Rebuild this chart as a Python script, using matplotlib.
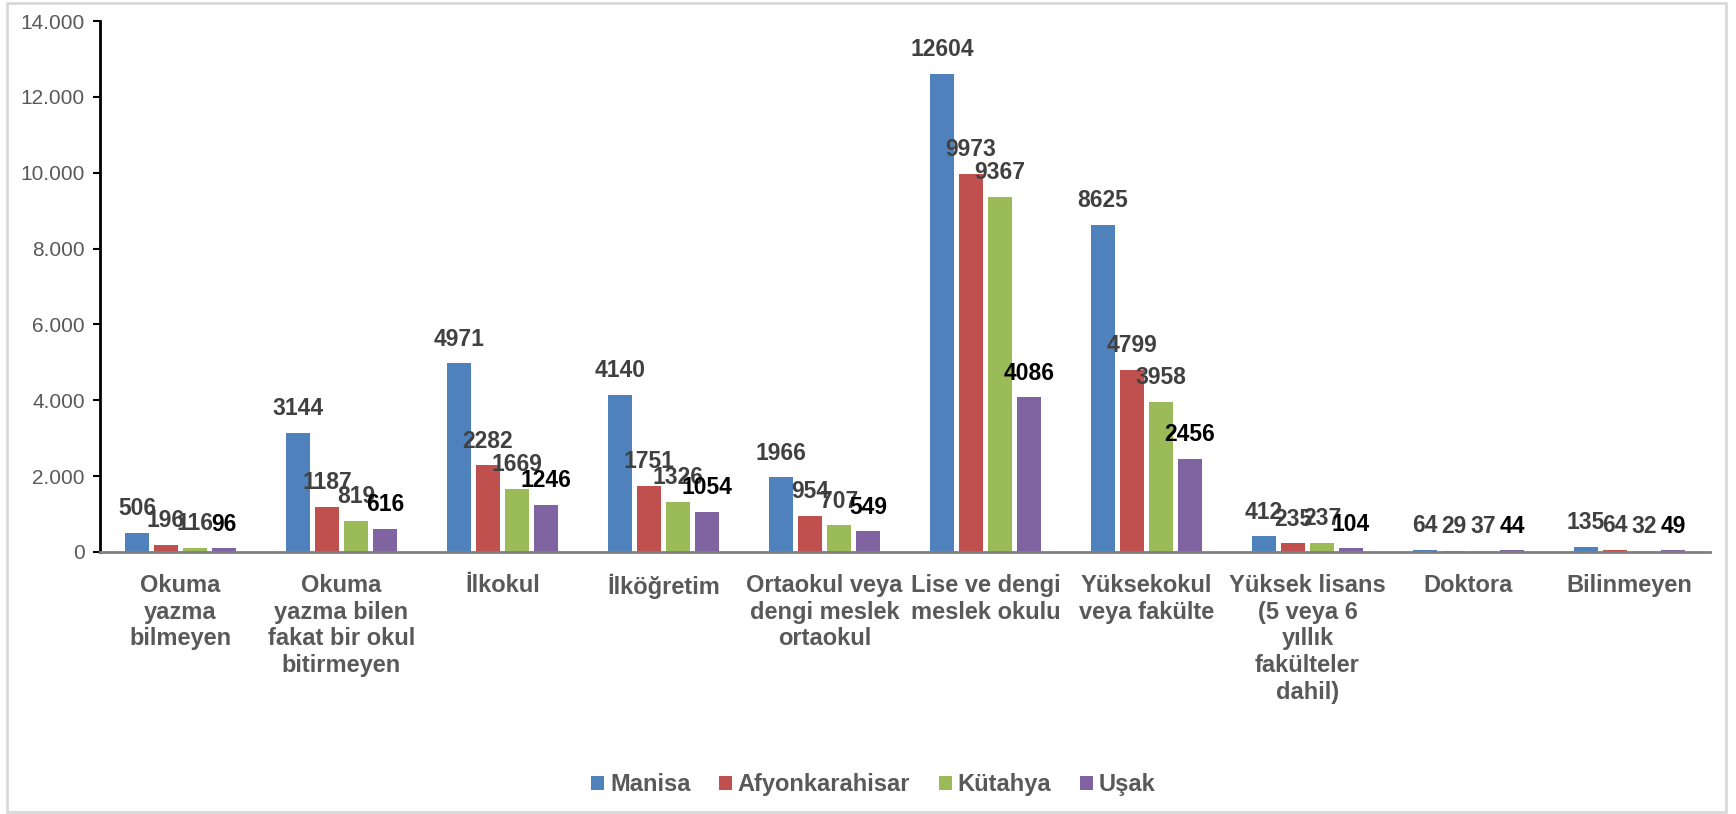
import matplotlib.pyplot as plt
from matplotlib import patches
from matplotlib.ticker import FuncFormatter
import numpy as np

categories = ["Okuma\nyazma\nbilmeyen", "Okuma\nyazma bilen\nfakat bir okul\nbitirmeyen",
              "İlkokul", "İlköğretim", "Ortaokul veya\ndengi meslek\nortaokul",
              "Lise ve dengi\nmeslek okulu", "Yüksekokul\nveya fakülte",
              "Yüksek lisans\n(5 veya 6\nyıllık\nfakülteler\ndahil)", "Doktora", "Bilinmeyen"]
series_names = ["Manisa", "Afyonkarahisar", "Kütahya", "Uşak"]
manisa = [506, 3144, 4971, 4140, 1966, 12604, 8625, 412, 64, 135]
afyon = [196, 1187, 2282, 1751, 954, 9973, 4799, 235, 29, 64]
kutahya = [116, 819, 1669, 1326, 707, 9367, 3958, 237, 37, 32]
usak = [96, 616, 1246, 1054, 549, 4086, 2456, 104, 44, 49]
y_ticks = [0, 2000, 4000, 6000, 8000, 10000, 12000, 14000]

colors = ['#4F81BD', '#C0504D', '#9BBB59', '#8064A2']
label_colors = ['#404040', '#404040', '#404040', '#000000']

plt.rcParams['font.family'] = ['Liberation Sans', 'DejaVu Sans']

fig = plt.figure(figsize=(17.36, 8.14), dpi=100)
ax = fig.add_axes([0.0576, 0.3219, 0.9274, 0.6523])

x = np.arange(len(categories))
slot = 0.18
for k, vals in enumerate([manisa, afyon, kutahya, usak]):
    pos = x + (k - 1.5) * slot
    ax.bar(pos, vals, width=slot * 0.8, color=colors[k], linewidth=0,
           label=series_names[k])
    for p, v in zip(pos, vals):
        ax.annotate(str(v), (p, v), xytext=(0, 9), textcoords='offset points',
                    ha='center', va='bottom', fontsize=16.5, fontweight='bold',
                    color=label_colors[k])

ax.set_xlim(-0.5, len(categories) - 0.5)
ax.set_ylim(0, 14000)
ax.set_yticks(y_ticks)
ax.yaxis.set_major_formatter(FuncFormatter(lambda v, _: f"{int(v):,}".replace(",", ".")))
ax.set_xticks(x)
ax.set_xticklabels(categories, fontsize=17, fontweight='bold', color='#595959',
                   linespacing=1.2, va='top')
ax.tick_params(axis='x', length=0, pad=16)
ax.tick_params(axis='y', labelsize=15, labelcolor='#595959', length=5, width=1.5,
               color='black', pad=6)

for s in ['top', 'right']:
    ax.spines[s].set_visible(False)
ax.spines['left'].set_color('black')
ax.spines['left'].set_linewidth(2)
ax.spines['bottom'].set_color('#808080')
ax.spines['bottom'].set_linewidth(2)

leg = fig.legend(loc='center', bbox_to_anchor=(0.503, 0.036), ncol=4, frameon=False,
                 handlelength=0.55, handleheight=0.55, handletextpad=0.25, columnspacing=1.2,
                 prop={'size': 17, 'weight': 'bold'})
for t in leg.get_texts():
    t.set_color('#595959')

fig.patches.append(patches.Rectangle((0.004, 0.003), 0.99, 0.993, transform=fig.transFigure,
                                     fill=False, edgecolor='#D9D9D9', linewidth=2))

fig.savefig('out.png', dpi=100)
